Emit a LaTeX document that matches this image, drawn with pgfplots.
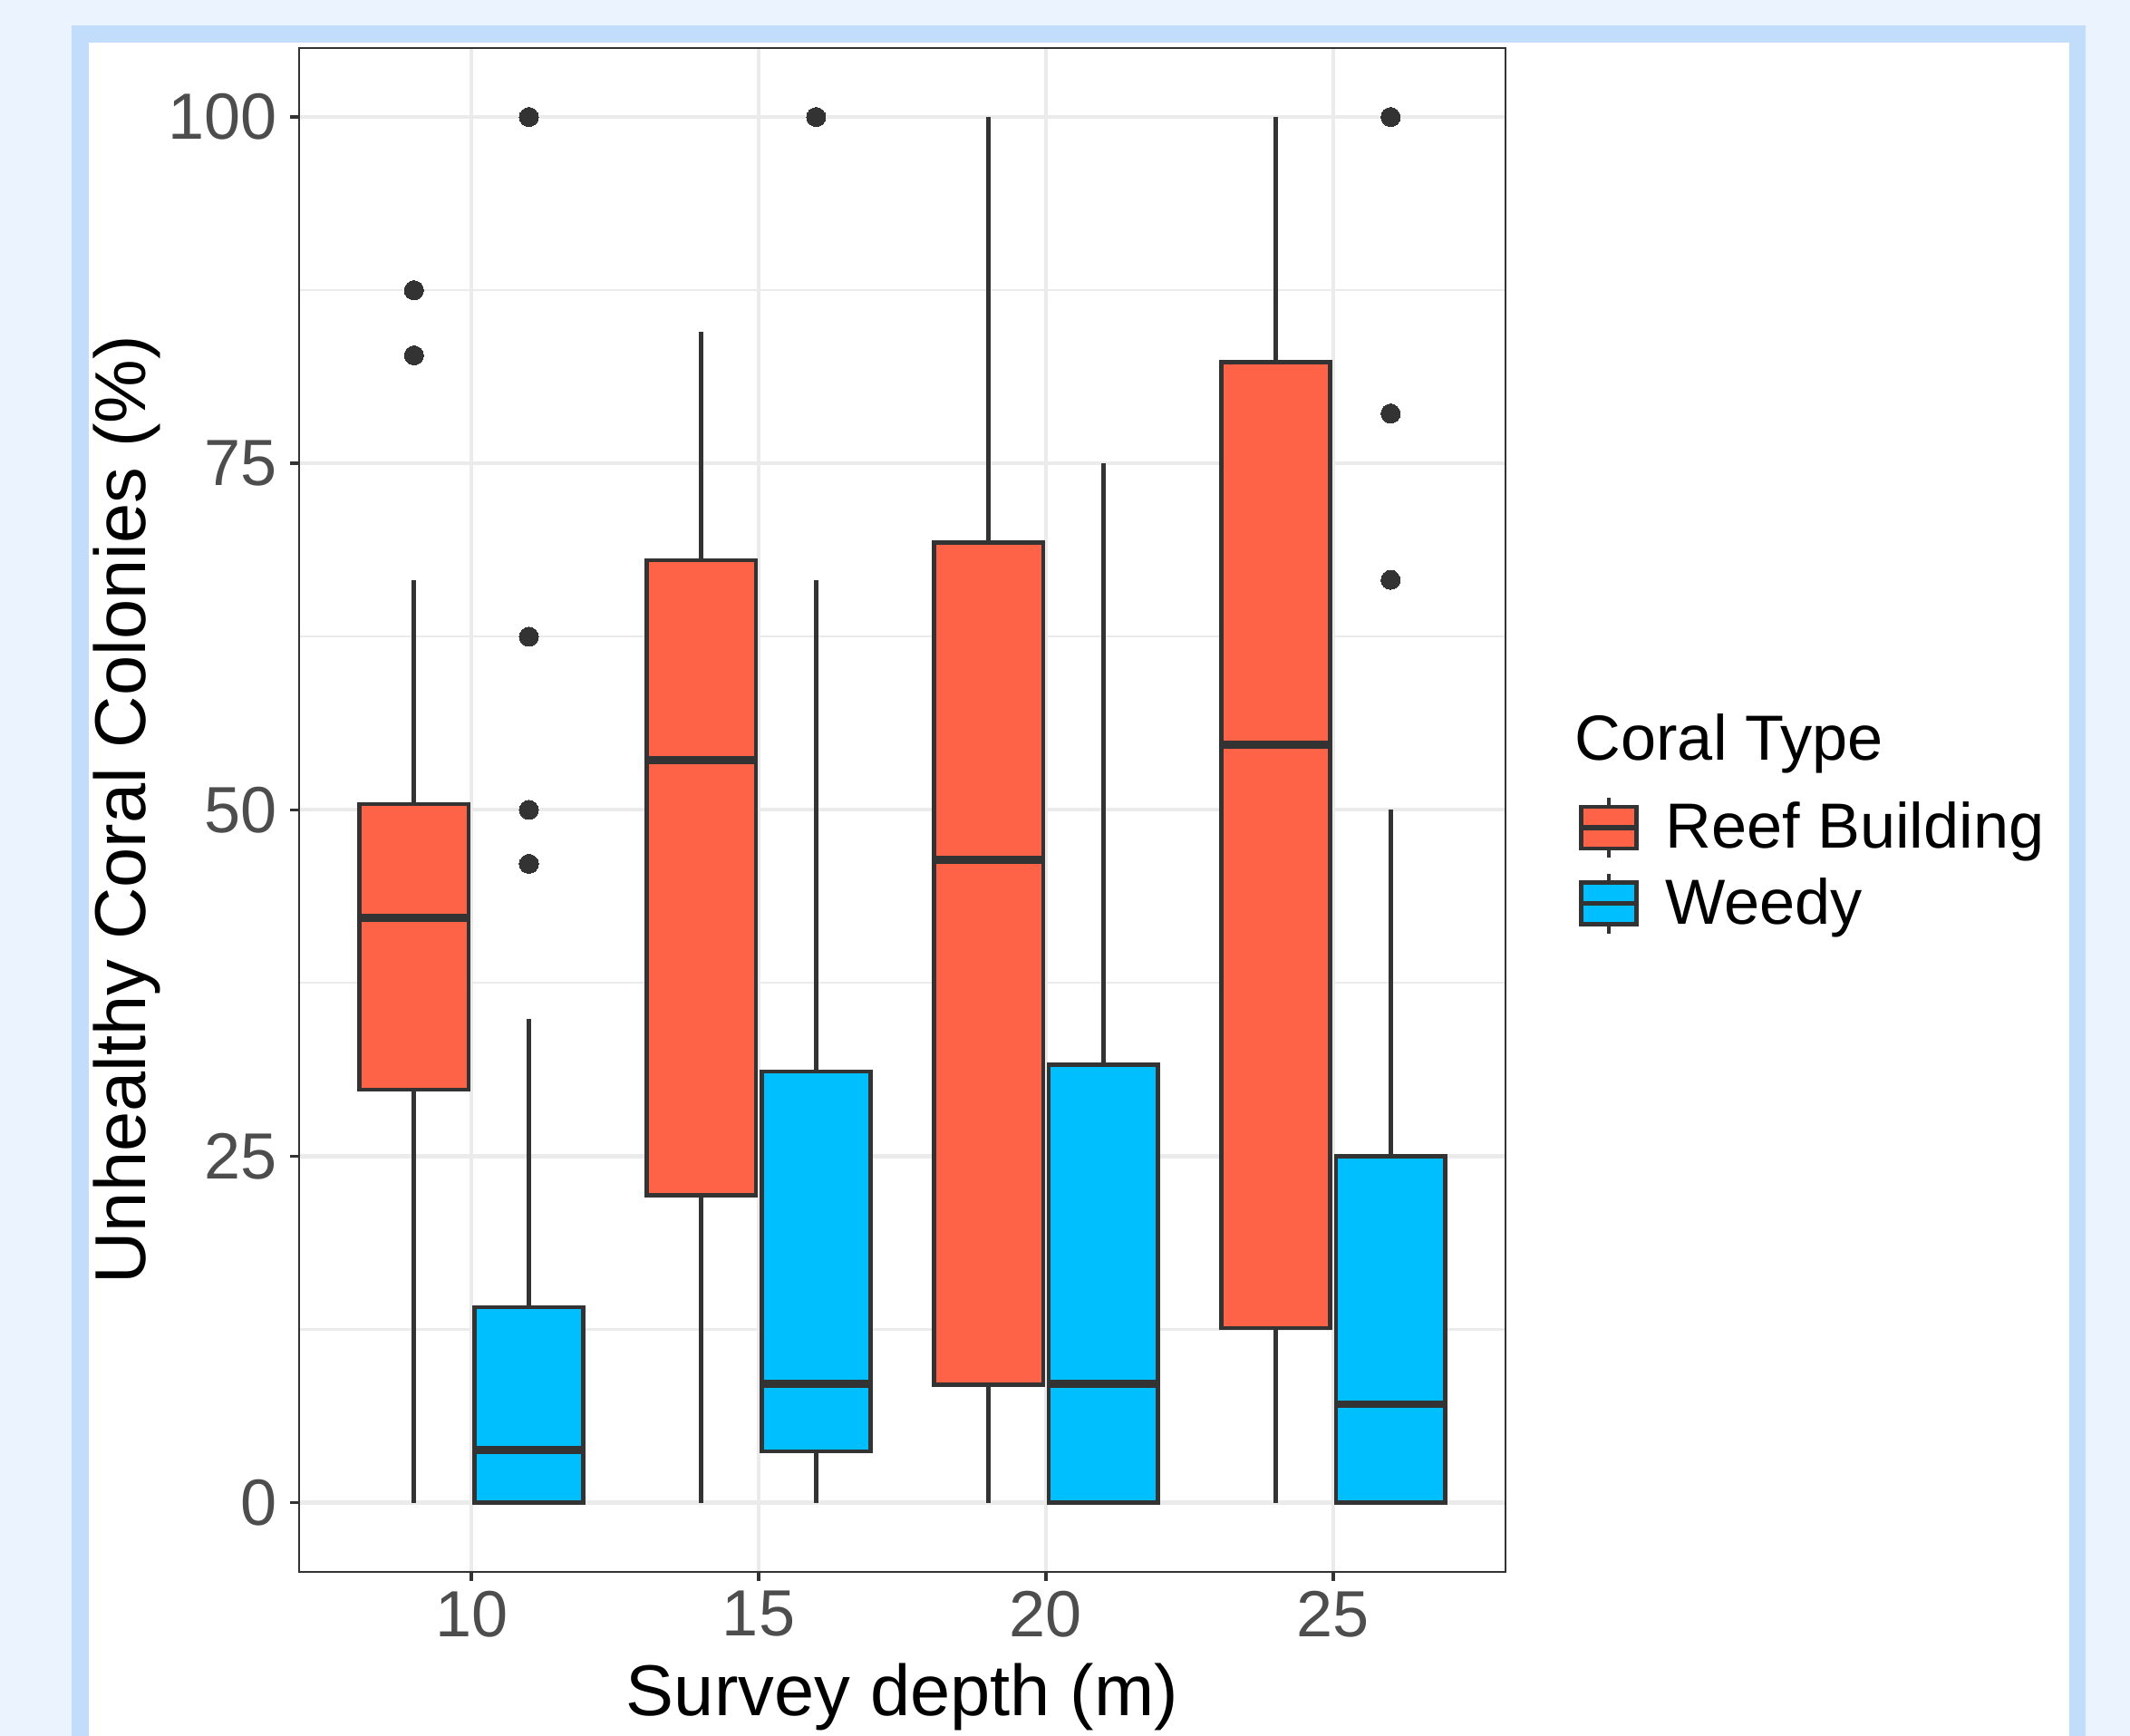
\documentclass[border=0pt]{standalone}
\usepackage{fontspec}
\setmainfont{Liberation Sans}
\usepackage{pgfplots}
\pgfplotsset{compat=1.18}
\usepgfplotslibrary{statistics}

\definecolor{reef}{HTML}{FF6347}
\definecolor{weedy}{HTML}{00BFFF}
\definecolor{edge}{HTML}{333333}
\definecolor{ticktxt}{HTML}{4D4D4D}
\definecolor{gridc}{HTML}{EBEBEB}
\definecolor{pagebg}{HTML}{EBF3FF}
\definecolor{framec}{HTML}{C2DCFC}

\pgfplotsset{
  coral/.style={draw=edge, fill=#1, line width=1.3pt, solid,
    mark=*, mark size=3pt,
    mark options={draw=edge, fill=edge, line width=0pt}},
}

\begin{document}
\begin{tikzpicture}
% page background and frame
\fill[pagebg] (0,0) rectangle (23.5,19.15);
\fill[framec] (0.79,0) rectangle (23.01,18.87);
\fill[white] (0.975,0) rectangle (22.83,18.683);

\begin{axis}[
  at={(3.30cm,1.81cm)}, anchor=south west,
  scale only axis,
  width=13.31cm, height=16.813cm,
  xmin=7, xmax=28,
  ymin=-5, ymax=105,
  xtick={10,15,20,25}, xticklabels={10,15,20,25},
  ytick={0,25,50,75,100}, yticklabels={0,25,50,75,100},
  minor ytick={12.5,37.5,62.5,87.5},
  xmajorgrids=true, ymajorgrids=true, yminorgrids=true,
  major grid style={draw=gridc, line width=1.2pt},
  minor grid style={draw=gridc, line width=0.6pt},
  tick pos=left, tick align=outside,
  major tick length=0.1cm, minor tick length=0pt,
  tick style={draw=edge, line width=1pt},
  axis line style={draw=edge, line width=0.65pt},
  xticklabel style={anchor=north, inner sep=0pt, yshift=-0.10cm,
    font=\fontsize{20.5}{24}\selectfont, text=ticktxt},
  yticklabel style={anchor=east, inner sep=0pt, xshift=-0.14cm,
    font=\fontsize{20.5}{24}\selectfont, text=ticktxt},
  xlabel={Survey depth (m)},
  ylabel={Unhealthy Coral Colonies (\%)},
  xlabel style={at={(axis description cs:0.5,-0.0940)}, anchor=base,
    inner sep=0pt, font=\fontsize{22.6}{27}\selectfont},
  ylabel style={at={(axis description cs:-0.1277,0.5)}, anchor=base,
    inner sep=0pt, font=\fontsize{22.6}{27}\selectfont},
  boxplot/draw direction=y,
  boxplot/whisker extend=0,
  boxplot/box extend=1.9,
  boxplot/every median/.style={line width=2.5pt},
  legend style={at={(axis description cs:1.0601,0.5097)}, anchor=north west,
    draw=none, fill=none, inner sep=0pt,
    font=\fontsize{20}{24}\selectfont,
    row sep=0.13cm, column sep=0.22cm},
  legend cell align=left,
]

% depth 10
\addplot[coral=reef, forget plot, boxplot prepared={draw position=9,
  lower whisker=0, lower quartile=29.8, median=42.2,
  upper quartile=50.4, upper whisker=66.6}]
  table[row sep=\\, y index=0] {87.5\\ 82.8\\};
\addplot[coral=weedy, forget plot, boxplot prepared={draw position=11,
  lower whisker=0, lower quartile=0, median=3.8,
  upper quartile=14.1, upper whisker=34.9}]
  table[row sep=\\, y index=0] {100\\ 62.5\\ 50\\ 46.1\\};

% depth 15
\addplot[coral=reef, forget plot, boxplot prepared={draw position=14,
  lower whisker=0, lower quartile=22.2, median=53.6,
  upper quartile=68.0, upper whisker=84.5}]
  coordinates {};
\addplot[coral=weedy, forget plot, boxplot prepared={draw position=16,
  lower whisker=0, lower quartile=3.7, median=8.6,
  upper quartile=31.1, upper whisker=66.6}]
  table[row sep=\\, y index=0] {100\\};

% depth 20
\addplot[coral=reef, forget plot, boxplot prepared={draw position=19,
  lower whisker=0, lower quartile=8.5, median=46.4,
  upper quartile=69.3, upper whisker=100}]
  coordinates {};
\addplot[coral=weedy, forget plot, boxplot prepared={draw position=21,
  lower whisker=0, lower quartile=0, median=8.6,
  upper quartile=31.6, upper whisker=75}]
  coordinates {};

% depth 25
\addplot[coral=reef, forget plot, boxplot prepared={draw position=24,
  lower whisker=0, lower quartile=12.6, median=54.7,
  upper quartile=82.3, upper whisker=100}]
  coordinates {};
\addplot[coral=weedy, forget plot, boxplot prepared={draw position=26,
  lower whisker=0, lower quartile=0, median=7.1,
  upper quartile=25, upper whisker=50}]
  table[row sep=\\, y index=0] {100\\ 78.6\\ 66.6\\};

% legend keys
\addlegendimage{legend image code/.code={
  \draw[edge, line width=1.3pt] (0.305cm,-0.33cm) -- (0.305cm,0.33cm);
  \filldraw[fill=reef, draw=edge, line width=1.3pt] (0cm,-0.23cm) rectangle (0.61cm,0.23cm);
  \draw[edge, line width=1.6pt] (0cm,0cm) -- (0.61cm,0cm);}}
\addlegendentry{Reef Building}
\addlegendimage{legend image code/.code={
  \draw[edge, line width=1.3pt] (0.305cm,-0.33cm) -- (0.305cm,0.33cm);
  \filldraw[fill=weedy, draw=edge, line width=1.3pt] (0cm,-0.23cm) rectangle (0.61cm,0.23cm);
  \draw[edge, line width=1.6pt] (0cm,0cm) -- (0.61cm,0cm);}}
\addlegendentry{Weedy}
\end{axis}

\node[anchor=base west, inner sep=0pt, font=\fontsize{20}{24}\selectfont]
  at (17.37,10.76) {Coral Type};

\pgfresetboundingbox
\useasboundingbox (0,0) rectangle (23.5,19.15);
\end{tikzpicture}
\end{document}
